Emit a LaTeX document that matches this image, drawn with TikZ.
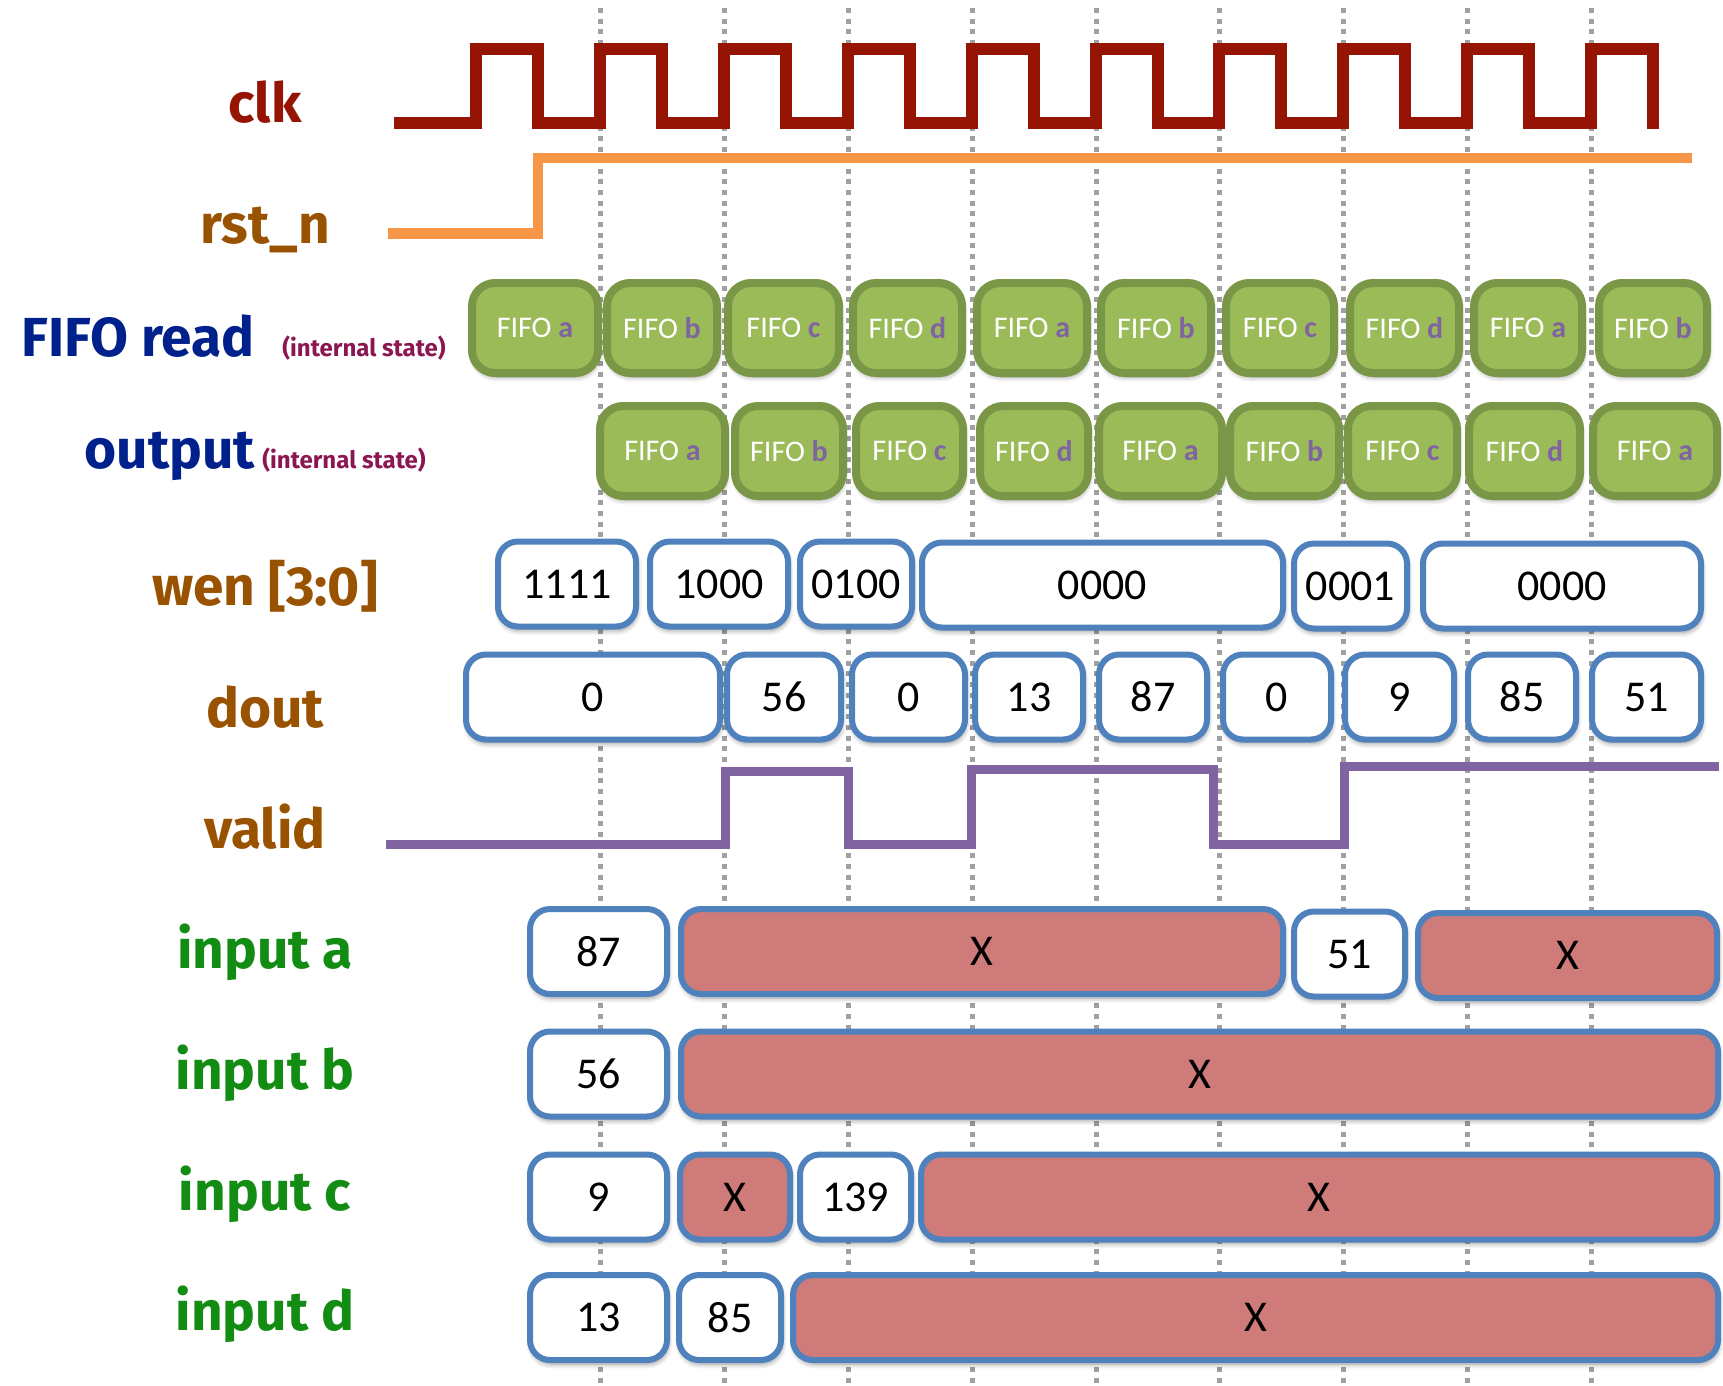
\documentclass[tikz,border=0pt]{standalone}
\usepackage{fontspec}
\setmainfont{Carlito}
\newfontfamily\lblfont{Fira Sans}
\usetikzlibrary{shadows.blur}

\definecolor{clkred}{RGB}{150,20,4}
\definecolor{rstorange}{RGB}{247,150,70}
\definecolor{validpurple}{RGB}{128,100,162}
\definecolor{sigbrown}{RGB}{153,82,0}
\definecolor{navy}{RGB}{0,32,140}
\definecolor{notemaroon}{RGB}{140,22,82}
\definecolor{ingreen}{RGB}{18,140,18}
\definecolor{fifofill}{RGB}{155,187,89}
\definecolor{fifoline}{RGB}{122,151,72}
\definecolor{cellline}{RGB}{79,129,189}
\definecolor{dontcare}{RGB}{207,123,121}
\definecolor{gridgray}{RGB}{160,160,160}

\newcommand\fifo[1]{FIFO \textcolor{validpurple}{\bfseries #1}}

\tikzset{
  gridline/.style={draw=gridgray, line width=5pt, dash pattern=on 5pt off 5.7pt},
  wave/.style={line width=#1, line join=miter, line cap=rect,
    preaction={draw=black, opacity=0.13, transform canvas={xshift=1pt,yshift=-3.5pt}}},
  sig/.style={font=\lblfont\bfseries\fontsize{55}{60}\selectfont, anchor=base, inner sep=0pt},
  note/.style={font=\lblfont\bfseries\fontsize{24}{28}\selectfont, text=notemaroon, anchor=base, inner sep=0pt},
  softshadow/.style={blur shadow={shadow xshift=1pt, shadow yshift=-4pt,
    shadow blur radius=5pt, shadow blur steps=8, shadow opacity=40}},
  fifo/.style={draw=fifoline, fill=fifofill, line width=8pt, rounded corners=23pt,
    minimum height=90pt, inner sep=0pt, font=\fontsize{30}{36}\selectfont, text=white, softshadow},
  cell/.style={draw=cellline, fill=white, line width=6pt, rounded corners=20pt,
    minimum height=85pt, inner sep=0pt, font=\fontsize{44}{50}\selectfont, softshadow},
  xcell/.style={cell, fill=dontcare},
}

\begin{document}
\begin{tikzpicture}[x=1pt, y=-1pt]
\useasboundingbox (0,0) rectangle (1723,1385);

% clock-edge grid
\foreach \gx in {600,724,848,972,1096,1219,1343,1467,1591}
  \draw[gridline] (\gx,8) -- (\gx,1385);

% signal names
\node[sig, text=clkred]   (lclk)   at (265,122) {clk};
\node[sig, text=sigbrown] (lrst)   at (265,243) {rst\_n};
\node[sig, text=navy]     (lread)  at (138,356) {FIFO read};
\node[note]               (lreadnote) at (364,356) {(internal state)};
\node[sig, text=navy]     (lout)   at (170,468) {output};
\node[note]               (loutnote)  at (344,468) {(internal state)};
\node[sig, text=sigbrown] (lwen)   at (265,605) {wen [3:0]};
\node[sig, text=sigbrown] (ldout)  at (265,727) {dout};
\node[sig, text=sigbrown] (lvalid) at (265,848) {valid};
\node[sig, text=ingreen]  (lina)   at (265,968) {input a};
\node[sig, text=ingreen]  (linb)   at (265,1089) {input b};
\node[sig, text=ingreen]  (linc)   at (265,1210) {input c};
\node[sig, text=ingreen]  (lind)   at (265,1330) {input d};

% clk
\draw[wave=12pt, clkred] (400,123)
  foreach \r in {476,600,724,848,972,1096,1219,1343,1467,1591}
  { -- (\r,123) -- (\r,49) -- ({\r+62},49) -- ({\r+62},123) };

% rst_n
\draw[wave=10.5pt, rstorange] (393,233.5) -- (538,233.5) -- (538,158) -- (1687,158);

% FIFO read state
\node[fifo, minimum width=126pt] (rd1)  at (535,328)    {\fifo{a}};
\node[fifo, minimum width=110pt] (rd2)  at (662,328)    {\fifo{b}};
\node[fifo, minimum width=111pt] (rd3)  at (783.5,328)  {\fifo{c}};
\node[fifo, minimum width=109pt] (rd4)  at (907.5,328)  {\fifo{d}};
\node[fifo, minimum width=110pt] (rd5)  at (1032,328)   {\fifo{a}};
\node[fifo, minimum width=110pt] (rd6)  at (1156,328)   {\fifo{b}};
\node[fifo, minimum width=108pt] (rd7)  at (1280,328)   {\fifo{c}};
\node[fifo, minimum width=109pt] (rd8)  at (1404.5,328) {\fifo{d}};
\node[fifo, minimum width=108pt] (rd9)  at (1528,328)   {\fifo{a}};
\node[fifo, minimum width=108pt] (rd10) at (1653,328)   {\fifo{b}};

% output state
\node[fifo, minimum width=125pt] (op1) at (662.5,451)  {\fifo{a}};
\node[fifo, minimum width=108pt] (op2) at (789,451)    {\fifo{b}};
\node[fifo, minimum width=107pt] (op3) at (909.5,451)  {\fifo{c}};
\node[fifo, minimum width=108pt] (op4) at (1034,451)   {\fifo{d}};
\node[fifo, minimum width=123pt] (op5) at (1160.5,451) {\fifo{a}};
\node[fifo, minimum width=109pt] (op6) at (1284.5,451) {\fifo{b}};
\node[fifo, minimum width=109pt] (op7) at (1402.5,451) {\fifo{c}};
\node[fifo, minimum width=111pt] (op8) at (1524.5,451) {\fifo{d}};
\node[fifo, minimum width=124pt] (op9) at (1655,451)   {\fifo{a}};

% wen
\node[cell, minimum width=138pt] (w1) at (567,584)    {1111};
\node[cell, minimum width=138pt] (w2) at (719,584)    {1000};
\node[cell, minimum width=112pt] (w3) at (856,584)    {0100};
\node[cell, minimum width=361pt] (w4) at (1102.5,585) {0000};
\node[cell, minimum width=113pt] (w5) at (1350.5,586) {0001};
\node[cell, minimum width=278pt] (w6) at (1562,586)   {0000};

% dout
\node[cell, minimum width=254pt] (d1) at (593,697)    {0};
\node[cell, minimum width=114pt] (d2) at (784,697)    {56};
\node[cell, minimum width=113pt] (d3) at (908.5,697)  {0};
\node[cell, minimum width=108pt] (d4) at (1029,697)   {13};
\node[cell, minimum width=108pt] (d5) at (1153,697)   {87};
\node[cell, minimum width=108pt] (d6) at (1277,697)   {0};
\node[cell, minimum width=109pt] (d7) at (1399.5,697) {9};
\node[cell, minimum width=108pt] (d8) at (1522,697)   {85};
\node[cell, minimum width=109pt] (d9) at (1646.5,697) {51};

% valid
\draw[wave=9pt, validpurple] (390.5,844) -- (725,844) -- (725,771) -- (848,771)
  -- (848,844) -- (971,844) -- (971,769) -- (1213,769) -- (1213,844)
  -- (1344,844) -- (1344,766) -- (1714,766);

% input a
\node[cell,  minimum width=137pt] (ia1) at (598.5,951.5)  {87};
\node[xcell, minimum width=602pt] (ia2) at (982,951.5)    {X};
\node[cell,  minimum width=111pt] (ia3) at (1349.5,954)   {51};
\node[xcell, minimum width=299pt] (ia4) at (1567.5,955.5) {X};

% input b
\node[cell,  minimum width=137pt]  (ib1) at (598.5,1074)  {56};
\node[xcell, minimum width=1037pt] (ib2) at (1199.5,1074) {X};

% input c
\node[cell,  minimum width=137pt] (ic1) at (598.5,1197) {9};
\node[xcell, minimum width=110pt] (ic2) at (735,1197)   {X};
\node[cell,  minimum width=111pt] (ic3) at (855.5,1197) {139};
\node[xcell, minimum width=796pt] (ic4) at (1319,1197)  {X};

% input d
\node[cell,  minimum width=137pt] (id1) at (598.5,1317.5)  {13};
\node[cell,  minimum width=102pt] (id2) at (730,1317.5)    {85};
\node[xcell, minimum width=925pt] (id3) at (1255.5,1317.5) {X};
\end{tikzpicture}
\end{document}
